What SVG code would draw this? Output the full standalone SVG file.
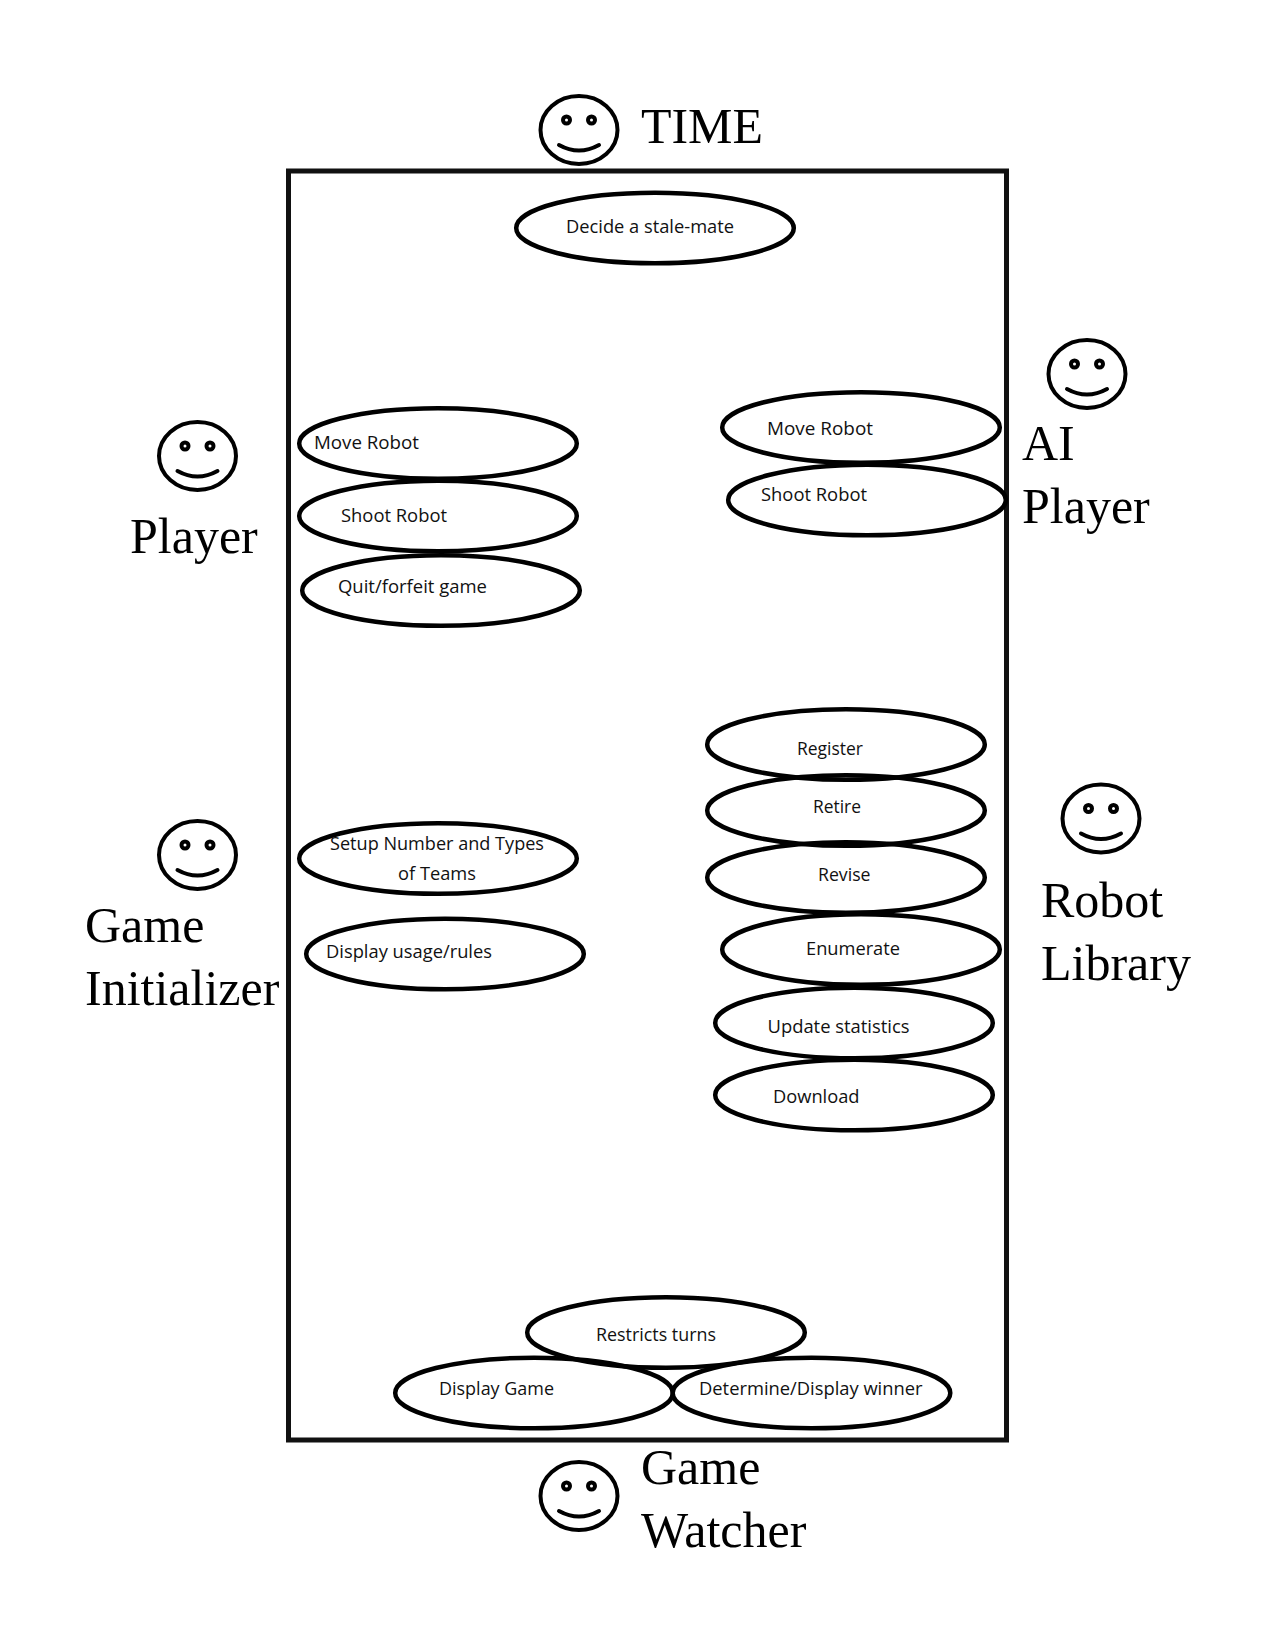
<svg xmlns="http://www.w3.org/2000/svg" xmlns:xlink="http://www.w3.org/1999/xlink" width="1275" height="1650" viewBox="0 0 1275 1650">
<style>
.u{fill:none;stroke:#000;stroke-width:4.5}
.t{font-family:"Open Sans","Noto Sans",sans-serif;font-size:18.5px;fill:#111}
.l{font-family:"Liberation Serif","Times New Roman",serif;font-size:50px;fill:#000}
.f{fill:none;stroke:#000;stroke-width:4}
.e{fill:none;stroke:#000;stroke-width:4}
</style>
<defs>
<g id="face">
<ellipse class="f" cx="0" cy="0" rx="38.5" ry="34"/>
<circle class="e" cx="-12.5" cy="-10" r="3.500"/>
<circle class="e" cx="12.5" cy="-10" r="3.500"/>
<path class="f" d="M-20 15Q0 26 20 15" stroke-linecap="round"/>
</g>
<ellipse id="uc" class="u" rx="138.800" ry="35.300"/>
</defs>
<rect width="1275" height="1650" fill="#fff"/>
<g id="system"><rect x="288.5" y="171" width="718" height="1269" fill="none" stroke="#111" stroke-width="5"/></g>
<g id="actor-time"><use xlink:href="#face" x="579" y="130"/><text class="l" x="641" y="143" textLength="122" lengthAdjust="spacingAndGlyphs">TIME</text></g>
<g id="actor-player"><use xlink:href="#face" x="197.500" y="456"/><text class="l" x="130" y="553">Player</text></g>
<g id="actor-ai"><use xlink:href="#face" x="1087" y="374"/><text class="l" x="1022" y="460">AI</text><text class="l" x="1022" y="523">Player</text></g>
<g id="actor-init"><use xlink:href="#face" x="197.500" y="855"/><text class="l" x="85" y="942">Game</text><text class="l" x="85" y="1005">Initializer</text></g>
<g id="actor-library"><use xlink:href="#face" x="1101" y="818.500"/><text class="l" x="1041" y="917">Robot</text><text class="l" x="1041" y="980">Library</text></g>
<g id="actor-watcher"><use xlink:href="#face" x="579" y="1496"/><text class="l" x="641" y="1484">Game</text><text class="l" x="641" y="1547">Watcher</text></g>
<g id="uc-stalemate"><use xlink:href="#uc" x="655" y="228"/><text class="t" x="566" y="232.500" textLength="168" lengthAdjust="spacingAndGlyphs">Decide a stale-mate</text></g>
<g id="uc-move-l"><use xlink:href="#uc" x="438" y="443.500"/><text class="t" x="314" y="449" textLength="105" lengthAdjust="spacingAndGlyphs">Move Robot</text></g>
<g id="uc-shoot-l"><use xlink:href="#uc" x="438" y="516"/><text class="t" x="341" y="522" textLength="106" lengthAdjust="spacingAndGlyphs">Shoot Robot</text></g>
<g id="uc-quit"><use xlink:href="#uc" x="441" y="590.500"/><text class="t" x="338" y="593" textLength="149" lengthAdjust="spacingAndGlyphs">Quit/forfeit game</text></g>
<g id="uc-move-r"><use xlink:href="#uc" x="861" y="427.500"/><text class="t" x="767" y="435" textLength="106" lengthAdjust="spacingAndGlyphs">Move Robot</text></g>
<g id="uc-shoot-r"><use xlink:href="#uc" x="867" y="500"/><text class="t" x="761" y="501" textLength="106" lengthAdjust="spacingAndGlyphs">Shoot Robot</text></g>
<g id="uc-register"><use xlink:href="#uc" x="846" y="744.500"/><text class="t" x="797" y="755" textLength="66" lengthAdjust="spacingAndGlyphs">Register</text></g>
<g id="uc-retire"><use xlink:href="#uc" x="846" y="810.500"/><text class="t" x="813" y="813" textLength="48" lengthAdjust="spacingAndGlyphs">Retire</text></g>
<g id="uc-revise"><use xlink:href="#uc" x="846" y="877.500"/><text class="t" x="818" y="881" textLength="52.500" lengthAdjust="spacingAndGlyphs">Revise</text></g>
<g id="uc-enumerate"><use xlink:href="#uc" x="861" y="949.500"/><text class="t" x="806" y="955" textLength="94" lengthAdjust="spacingAndGlyphs">Enumerate</text></g>
<g id="uc-update"><use xlink:href="#uc" x="854" y="1023"/><text class="t" x="767.500" y="1033" textLength="142" lengthAdjust="spacingAndGlyphs">Update statistics</text></g>
<g id="uc-download"><use xlink:href="#uc" x="854" y="1095"/><text class="t" x="773" y="1103" textLength="86.500" lengthAdjust="spacingAndGlyphs">Download</text></g>
<g id="uc-setup"><use xlink:href="#uc" x="438" y="858.500"/><text class="t" x="330" y="849.500" textLength="214" lengthAdjust="spacingAndGlyphs">Setup Number and Types</text><text class="t" x="398" y="879.500" textLength="78" lengthAdjust="spacingAndGlyphs">of Teams</text></g>
<g id="uc-usage"><use xlink:href="#uc" x="445" y="954"/><text class="t" x="326" y="958" textLength="166" lengthAdjust="spacingAndGlyphs">Display usage/rules</text></g>
<g id="uc-restricts"><use xlink:href="#uc" x="666" y="1332.500"/><text class="t" x="596" y="1341" textLength="120" lengthAdjust="spacingAndGlyphs">Restricts turns</text></g>
<g id="uc-display"><use xlink:href="#uc" x="534" y="1393"/><text class="t" x="439" y="1395" textLength="115" lengthAdjust="spacingAndGlyphs">Display Game</text></g>
<g id="uc-winner"><use xlink:href="#uc" x="811.500" y="1393"/><text class="t" x="699" y="1395" textLength="223.500" lengthAdjust="spacingAndGlyphs">Determine/Display winner</text></g>
<g id="connectors"></g>
</svg>
